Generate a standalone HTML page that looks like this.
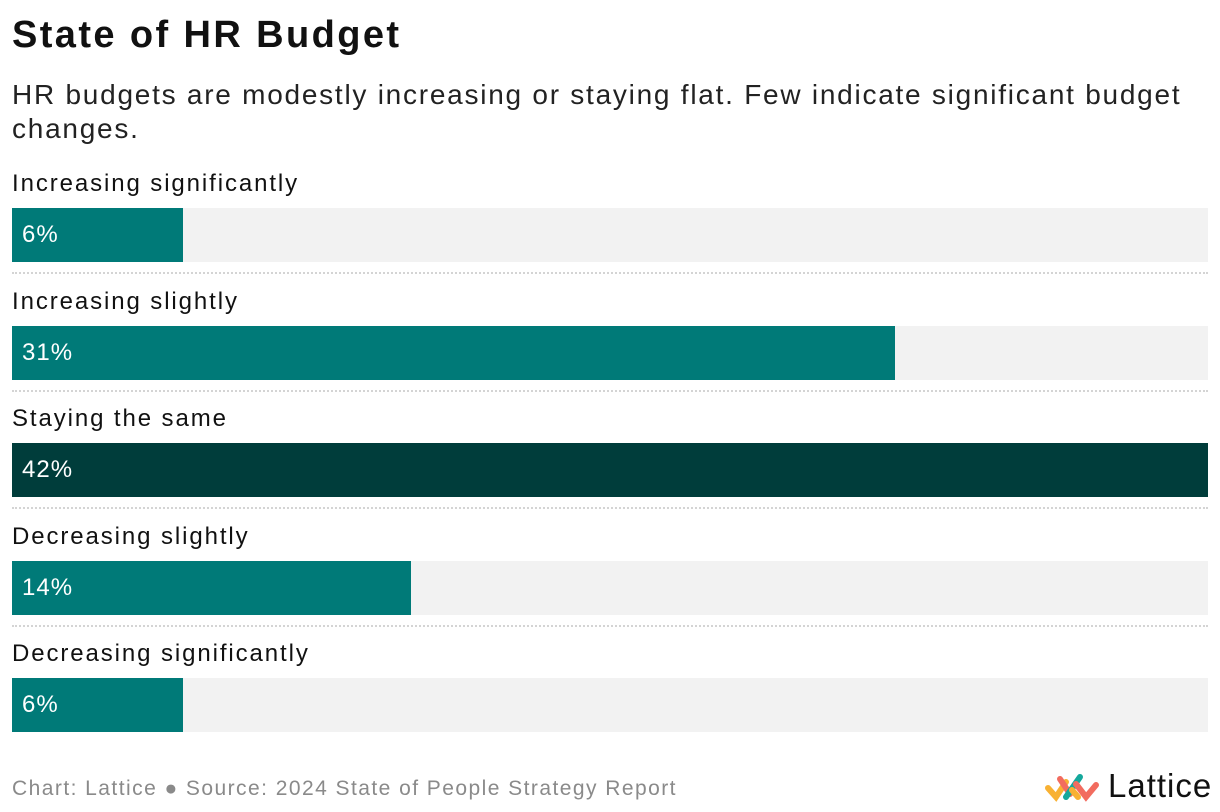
<!DOCTYPE html>
<html><head><meta charset="utf-8"><style>
body{margin:0;width:1220px;height:812px;background:#fff;font-family:"Liberation Sans",sans-serif;color:#111;position:relative;overflow:hidden}
.t{position:absolute;left:12px;white-space:nowrap}
</style></head><body>
<div class="t" style="top:14px;font-size:38px;font-weight:bold;letter-spacing:2.4px">State of HR Budget</div>
<div class="t" style="top:78px;font-size:28px;line-height:34px;letter-spacing:1.75px;color:#222">HR budgets are modestly increasing or staying flat. Few indicate significant budget<br>changes.</div>
<div id="chart"></div>
<div class="t" style="top:777px;font-size:21px;letter-spacing:1.45px;color:#8a8a8a">Chart: Lattice ● Source: 2024 State of People Strategy Report</div>
<div style="position:absolute;left:1042px;top:770px">
<svg width="60" height="34" viewBox="0 0 60 34">
<g stroke-linecap="round" stroke-width="6" fill="none">
<path d="M6 18 L14 27 L24 12" stroke="#f8b133"/>
<path d="M18 9 L28 24" stroke="#f26c5f"/>
<path d="M24 27 L38 7" stroke="#14a89c"/>
<path d="M34 14 L44 27 L54 15" stroke="#f26c5f"/>
<path d="M30 20 L36 27" stroke="#f8b133"/>
</g></svg>
<span style="position:absolute;left:66px;top:-3px;font-size:33px;letter-spacing:1px;color:#111">Lattice</span>
</div>
<script>
const categories=["Increasing significantly","Increasing slightly","Staying the same","Decreasing slightly","Decreasing significantly"];
const values=[6,31,42,14,6];
const labels=["6%","31%","42%","14%","6%"];
const maxV=42, x0=12, w=1196, rowTop=168, rowH=117.5;
const c=document.getElementById('chart');
const xs=v=>w*v/maxV;
categories.forEach((cat,i)=>{
 const y=rowTop+i*rowH;
 const l=document.createElement('div');
 
 
 l.className='t';l.style.top=(y+2)+'px';l.style.fontSize='24px';l.style.letterSpacing='1.9px';l.textContent=cat;c.appendChild(l);
 const bg=document.createElement('div');
 
 
 bg.style.cssText=`position:absolute;left:${x0}px;top:${y+40}px;width:${w}px;height:54px;background:#f2f2f2`;c.appendChild(bg);
 const b=document.createElement('div');
 
 
 const max=values[i]===Math.max(...values);
 b.style.cssText=`position:absolute;left:${x0}px;top:${y+40}px;width:${xs(values[i])}px;height:54px;background:${max?'#003d3b':'#007a78'}`;c.appendChild(b);
 const v=document.createElement('div');
 
 
 v.style.cssText=`position:absolute;left:${x0+10}px;top:${y+53}px;font-size:24px;letter-spacing:1px;color:#fff`;v.textContent=labels[i];c.appendChild(v);
 if(i<categories.length-1){
  const s=document.createElement('div');
  
  
  s.style.cssText=`position:absolute;left:${x0}px;top:${y+104}px;width:${w}px;border-top:2px dotted #d4d4d4`;c.appendChild(s);
 }
});
</script>
</body></html>
